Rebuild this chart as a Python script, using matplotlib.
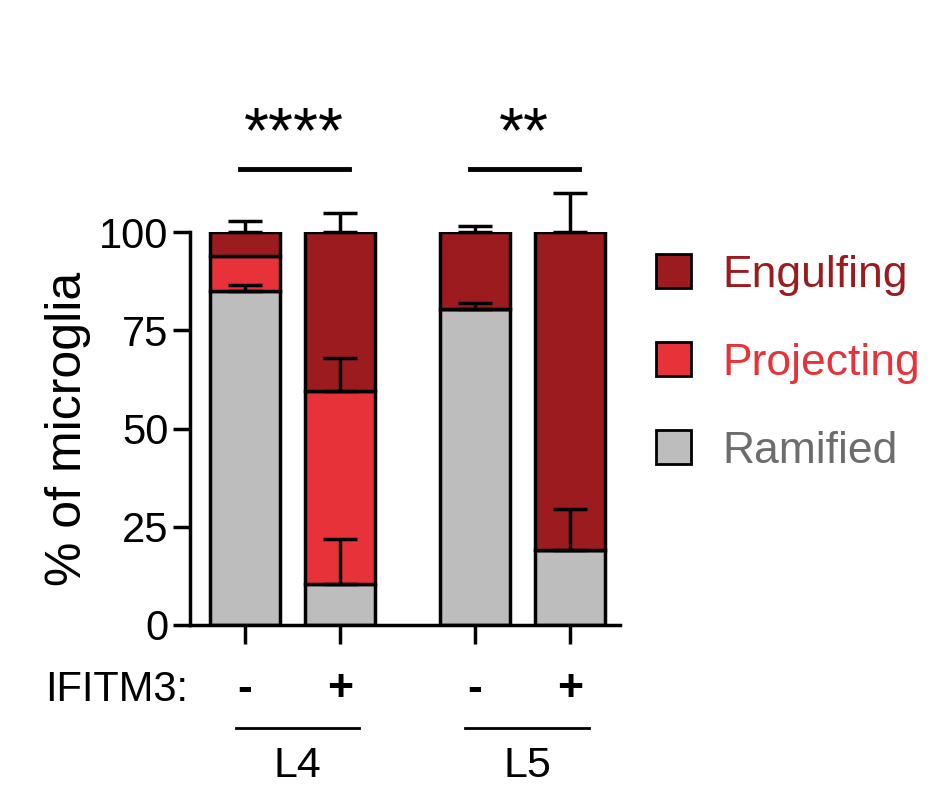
import matplotlib
matplotlib.use("Agg")
import matplotlib.pyplot as plt
from matplotlib.patches import Patch

plt.rcParams["font.family"] = "Liberation Sans"

groups = ["L4", "L4", "L5", "L5"]
ifitm3 = ["-", "+", "-", "+"]
ramified = [85, 10.5, 80.5, 19]
projecting = [9, 49, 0, 0]
engulfing = [6, 40.5, 19.5, 81]
ramified_err = [1.5, 11.5, 1.5, 10.5]
projecting_err = [0, 8.5, 0, 0]
engulfing_err = [3, 5, 1.5, 10]
stars = ["****", "**"]

c_eng = "#9b1b1e"
c_proj = "#e8323a"
c_ram = "#bdbdbd"

x = [0, 1, 2.42, 3.42]
w = 0.74

fig = plt.figure(figsize=(9.5, 8.08), dpi=100)
ax = fig.add_axes([0.2, 0.2265, 0.4526, 0.486])

ax.bar(x, ramified, w, color=c_ram, edgecolor="black", linewidth=2.5, zorder=2)
bot2 = ramified
ax.bar(x, projecting, w, bottom=bot2, color=c_proj, edgecolor="black", linewidth=2.5, zorder=2)
bot3 = [a + b for a, b in zip(ramified, projecting)]
ax.bar(x, engulfing, w, bottom=bot3, color=c_eng, edgecolor="black", linewidth=2.5, zorder=2)

tops = [ramified, bot3, [a + b for a, b in zip(bot3, engulfing)]]
errs = [ramified_err, projecting_err, engulfing_err]
for t, e in zip(tops, errs):
    for xi, ti, ei in zip(x, t, e):
        if ei > 0:
            eb = ax.errorbar(xi, ti, yerr=[[0], [ei]], color="black", capsize=12,
                             elinewidth=2.5, capthick=2.5, zorder=3)
            for art in eb.lines[1] + eb.lines[2]:
                art.set_clip_on(False)

ax.set_xlim(-0.58, 3.95)
ax.set_ylim(0, 100)
ax.set_yticks([0, 25, 50, 75, 100])
ax.set_xticks(x)
ax.set_xticklabels([])
ax.tick_params(axis="both", width=2.5, length=12, labelsize=30)
ax.tick_params(axis="x", length=14)
for s in ["top", "right"]:
    ax.spines[s].set_visible(False)
for s in ["left", "bottom"]:
    ax.spines[s].set_linewidth(2.5)
ax.set_ylabel("% of microglia", fontsize=36, labelpad=6)

# significance
for (x0, x1), s in zip([(x[0], x[1]), (x[2], x[3])], stars):
    ax.plot([x0 - 0.05, x1 + 0.1], [116, 116], color="black", lw=3.5, clip_on=False)
    ax.text((x0 + x1) / 2 + 0.02, 117, s, ha="center", va="bottom", fontsize=46)

# x annotations
ax.text(-0.6, -16.5, "IFITM3:", ha="right", va="center", fontsize=30, clip_on=False)
for xi, lab in zip(x, ifitm3):
    ax.text(xi, -16.5, lab, ha="center", va="center", fontsize=32,
            fontweight="bold", clip_on=False)
for (x0, x1), g in zip([(x[0], x[1]), (x[2], x[3])], ["L4", "L5"]):
    ax.plot([x0 - 0.1, x1 + 0.2], [-26.2, -26.2], color="black", lw=2, clip_on=False)
    ax.text((x0 + x1) / 2 + 0.05, -36, g, ha="center", va="center", fontsize=31,
            clip_on=False)

handles = [Patch(facecolor=c, edgecolor="black", linewidth=2) for c in (c_eng, c_proj, c_ram)]
fig.legend(handles, ["Engulfing", "Projecting", "Ramified"],
           labelcolor=[c_eng, c_proj, "#6d6d6d"], loc="upper left",
           bbox_to_anchor=(0.648, 0.735), frameon=False, fontsize=32,
           handlelength=0.8, handleheight=0.8, labelspacing=1.05, handletextpad=0.7)

fig.savefig("out.png", dpi=100)
